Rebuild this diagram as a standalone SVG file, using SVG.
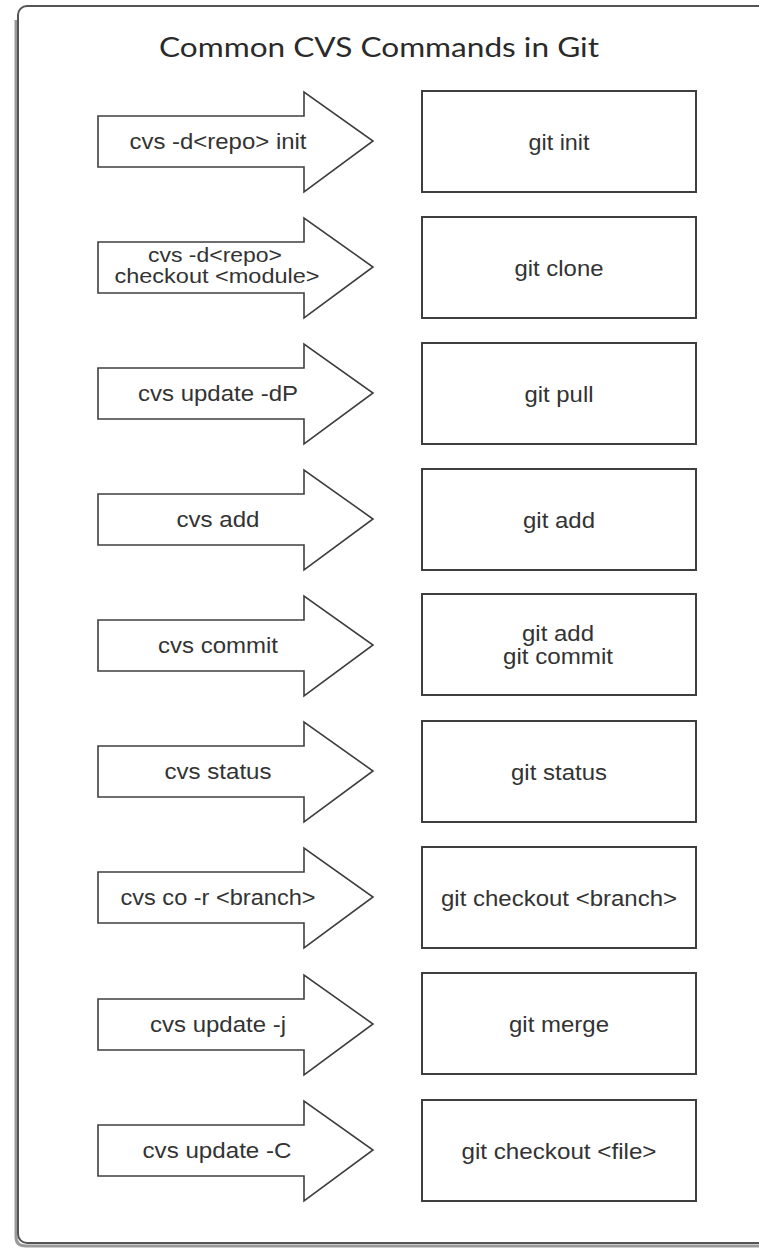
<svg xmlns="http://www.w3.org/2000/svg" width="759" height="1249" viewBox="0 0 759 1249">
  <style>
    .frame { fill: #ffffff; stroke: #555555; stroke-width: 2; }
    .shadow { fill: none; stroke: #9a9a9a; stroke-width: 3; }
    .arrow { fill: #ffffff; stroke: #3f3f3f; stroke-width: 1.6; stroke-linejoin: miter; }
    .box { fill: #ffffff; stroke: #3f3f3f; stroke-width: 2; }
    .lbl { font-family: "Liberation Sans", Arial, sans-serif; font-size: 22px; fill: #333333; text-anchor: middle; }
    .lbl2 { font-family: "Liberation Sans", Arial, sans-serif; font-size: 20px; fill: #333333; text-anchor: middle; }
    .title { font-family: Lato, "Open Sans", sans-serif; font-size: 27px; fill: #2a2a2a; text-anchor: middle; }
  </style>
  <rect width="759" height="1249" fill="#ffffff"/>
  <g id="frame">
    <path class="shadow" d="M 16 20 L 16 1237 Q 16 1246 26 1246 L 770 1246"/>
    <rect class="frame" x="18" y="6" width="760" height="1237" rx="9"/>
    <text class="title" x="379" y="57" textLength="440" lengthAdjust="spacingAndGlyphs">Common CVS Commands in Git</text>
  </g>

  <g id="connectors">
    <g id="arrow1">
      <polygon class="arrow" points="98,116 304,116 304,92 373,141 304,192 304,167 98,167"/>
      <text class="lbl" x="218" y="149" textLength="177" lengthAdjust="spacingAndGlyphs">cvs -d&lt;repo&gt; init</text>
    </g>
    <g id="arrow2">
      <polygon class="arrow" points="98,242 304,242 304,218 373,267 304,318 304,293 98,293"/>
      <text class="lbl2" x="215" y="262" textLength="134" lengthAdjust="spacingAndGlyphs">cvs -d&lt;repo&gt;</text>
      <text class="lbl2" x="217" y="283" textLength="205" lengthAdjust="spacingAndGlyphs">checkout &lt;module&gt;</text>
    </g>
    <g id="arrow3">
      <polygon class="arrow" points="98,368 304,368 304,344 373,393 304,444 304,419 98,419"/>
      <text class="lbl" x="218" y="401" textLength="160" lengthAdjust="spacingAndGlyphs">cvs update -dP</text>
    </g>
    <g id="arrow4">
      <polygon class="arrow" points="98,494 304,494 304,470 373,519 304,570 304,545 98,545"/>
      <text class="lbl" x="218" y="527" textLength="83" lengthAdjust="spacingAndGlyphs">cvs add</text>
    </g>
    <g id="arrow5">
      <polygon class="arrow" points="98,620 304,620 304,596 373,645 304,696 304,671 98,671"/>
      <text class="lbl" x="218" y="653" textLength="120" lengthAdjust="spacingAndGlyphs">cvs commit</text>
    </g>
    <g id="arrow6">
      <polygon class="arrow" points="98,746 304,746 304,722 373,771 304,822 304,797 98,797"/>
      <text class="lbl" x="218" y="779" textLength="107" lengthAdjust="spacingAndGlyphs">cvs status</text>
    </g>
    <g id="arrow7">
      <polygon class="arrow" points="98,872 304,872 304,848 373,897 304,948 304,923 98,923"/>
      <text class="lbl" x="218" y="905" textLength="195" lengthAdjust="spacingAndGlyphs">cvs co -r &lt;branch&gt;</text>
    </g>
    <g id="arrow8">
      <polygon class="arrow" points="98,999 304,999 304,975 373,1024 304,1075 304,1050 98,1050"/>
      <text class="lbl" x="218" y="1032" textLength="136" lengthAdjust="spacingAndGlyphs">cvs update -j</text>
    </g>
    <g id="arrow9">
      <polygon class="arrow" points="98,1125 304,1125 304,1101 373,1150 304,1201 304,1176 98,1176"/>
      <text class="lbl" x="217" y="1158" textLength="149" lengthAdjust="spacingAndGlyphs">cvs update -C</text>
    </g>
  </g>

  <g id="box1">
    <rect class="box" x="422" y="91" width="274" height="101"/>
    <text class="lbl" x="559" y="150" textLength="61" lengthAdjust="spacingAndGlyphs">git init</text>
  </g>
  <g id="box2">
    <rect class="box" x="422" y="217" width="274" height="101"/>
    <text class="lbl" x="559" y="276" textLength="89" lengthAdjust="spacingAndGlyphs">git clone</text>
  </g>
  <g id="box3">
    <rect class="box" x="422" y="343" width="274" height="101"/>
    <text class="lbl" x="559" y="402" textLength="69" lengthAdjust="spacingAndGlyphs">git pull</text>
  </g>
  <g id="box4">
    <rect class="box" x="422" y="469" width="274" height="101"/>
    <text class="lbl" x="559" y="528" textLength="72" lengthAdjust="spacingAndGlyphs">git add</text>
  </g>
  <g id="box5">
    <rect class="box" x="422" y="594" width="274" height="101"/>
    <text class="lbl" x="558" y="641" textLength="72" lengthAdjust="spacingAndGlyphs">git add</text>
    <text class="lbl" x="558" y="664" textLength="110" lengthAdjust="spacingAndGlyphs">git commit</text>
  </g>
  <g id="box6">
    <rect class="box" x="422" y="721" width="274" height="101"/>
    <text class="lbl" x="559" y="780" textLength="96" lengthAdjust="spacingAndGlyphs">git status</text>
  </g>
  <g id="box7">
    <rect class="box" x="422" y="847" width="274" height="101"/>
    <text class="lbl" x="559" y="906" textLength="236" lengthAdjust="spacingAndGlyphs">git checkout &lt;branch&gt;</text>
  </g>
  <g id="box8">
    <rect class="box" x="422" y="973" width="274" height="101"/>
    <text class="lbl" x="559" y="1032" textLength="100" lengthAdjust="spacingAndGlyphs">git merge</text>
  </g>
  <g id="box9">
    <rect class="box" x="422" y="1100" width="274" height="101"/>
    <text class="lbl" x="559" y="1159" textLength="195" lengthAdjust="spacingAndGlyphs">git checkout &lt;file&gt;</text>
  </g>
</svg>
